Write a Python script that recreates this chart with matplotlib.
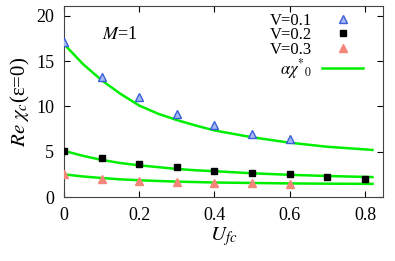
import matplotlib
matplotlib.use('Agg')
import matplotlib.pyplot as plt

plt.rcParams['font.family'] = ['Liberation Serif', 'DejaVu Serif']
plt.rcParams['mathtext.fontset'] = 'stix'

# data
u_pts = [0.0, 0.1, 0.2, 0.3, 0.4, 0.5, 0.6, 0.7, 0.8]
v01 = [17.1, 13.3, 11.1, 9.2, 7.9, 7.0, 6.4]
v02 = [5.1, 4.35, 3.7, 3.3, 2.85, 2.7, 2.5, 2.25, 2.0]
v03 = [2.5, 2.0, 1.8, 1.7, 1.6, 1.5, 1.4]

u_fit = [0.0, 0.05, 0.1, 0.15, 0.2, 0.25, 0.3, 0.35, 0.4, 0.5, 0.6, 0.7, 0.82]
fit1 = [16.9, 14.7, 12.9, 11.4, 10.1, 9.2, 8.5, 7.9, 7.35, 6.6, 6.0, 5.55, 5.2]
fit2 = [5.1, 4.55, 4.1, 3.75, 3.5, 3.3, 3.1, 2.95, 2.85, 2.62, 2.45, 2.32, 2.2]
fit3 = [2.5, 2.27, 2.1, 1.95, 1.85, 1.77, 1.7, 1.65, 1.6, 1.55, 1.5, 1.47, 1.45]

fig = plt.figure(figsize=(3.95, 2.61), dpi=100)
ax = fig.add_axes([64/395, 1 - 197/261, 319/395, 191/261])

green = '#00ee00'
ax.plot(u_pts[:len(v01)], v01, linestyle='none', marker='^', ms=6,
        mfc='#a8b8f0', mec='#3a5fd8', mew=1.0, label='V=0.1', zorder=3)
ax.plot(u_pts, v02, linestyle='none', marker='s', ms=4.5,
        color='black', label='V=0.2', zorder=3)
ax.plot(u_pts[:len(v03)], v03, linestyle='none', marker='^', ms=5.5,
        color='#f4877a', mec='#f4877a', label='V=0.3', zorder=3)
ax.plot(u_fit, fit1, color=green, lw=1.8, label=r'$\alpha\chi^{*}{}_{\mathit{0}}$')
ax.plot(u_fit, fit2, color=green, lw=1.8)
ax.plot(u_fit, fit3, color=green, lw=1.8)

ax.set_xlim(0, 0.848)
ax.set_ylim(0, 21.1)
ax.set_xticks([0, 0.2, 0.4, 0.6, 0.8])
ax.set_xticklabels(['0', '0.2', '0.4', '0.6', '0.8'])
ax.set_yticks([0, 5, 10, 15, 20])
ax.tick_params(direction='in', top=True, right=True, labelsize=13, length=4, pad=7)
for s in ax.spines.values():
    s.set_color('#444444')

ax.set_xlabel(r'$U_{fc}$', fontsize=15, labelpad=1)
ax.set_ylabel(r'$Re\ \chi_c$' + '(ε=0)', fontsize=15, labelpad=3)
ax.text(0.1, 18.0, r'$M$=1', fontsize=13, ha='left', va='center')

ax.legend(loc='upper right', bbox_to_anchor=(0.944, 0.974), markerfirst=False,
          frameon=False, fontsize=12, handlelength=2.5, labelspacing=-0.08,
          borderaxespad=0, handletextpad=0.6, borderpad=0.1)

fig.savefig('out.png', dpi=100)
